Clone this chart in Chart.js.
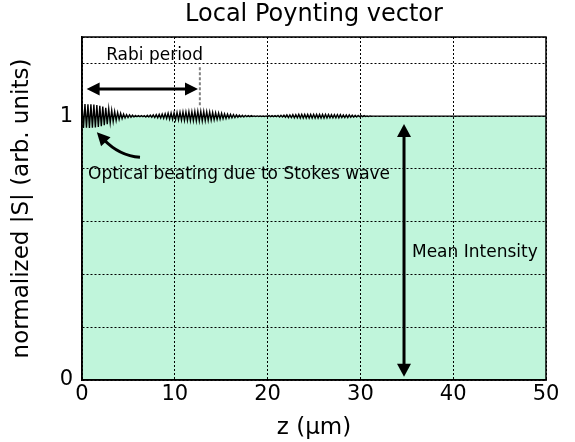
<!DOCTYPE html>
<html>
<head>
<meta charset="utf-8">
<script src="https://cdn.jsdelivr.net/npm/chart.js@4.4.0/dist/chart.umd.min.js"></script>
<style>
  html, body { margin: 0; padding: 0; background: #fff; }
  canvas { display: block; }
</style>
</head>
<body>
<canvas id="poyntingChart" width="575" height="442"></canvas>
<script>
// extrema of |S|, one value every half period (0.16 µm)
const zStep = 0.16;
const rippleS = [
  1.047, 0.955, 1.046, 0.956, 1.045, 0.955, 1.045, 0.956, 1.044, 0.957,
  1.042, 0.959, 1.039, 0.962, 1.036, 0.966, 1.032, 0.970, 1.028, 0.975,
  1.022, 0.980, 1.018, 0.984, 1.014, 0.988, 1.011, 0.991, 1.008, 0.993,
  1.006, 0.995, 1.005, 0.996, 1.004, 0.997, 1.003, 0.998, 1.002, 0.998,
  1.002, 0.998, 1.002, 0.997, 1.003, 0.997, 1.004, 0.996, 1.005, 0.995,
  1.006, 0.994, 1.007, 0.993, 1.008, 0.992, 1.009, 0.991, 1.011, 0.989,
  1.012, 0.988, 1.013, 0.987, 1.014, 0.986, 1.015, 0.985, 1.016, 0.984,
  1.016, 0.984, 1.017, 0.983, 1.017, 0.983, 1.018, 0.982, 1.018, 0.982,
  1.018, 0.982, 1.018, 0.983, 1.017, 0.984, 1.016, 0.985, 1.014, 0.986,
  1.013, 0.988, 1.012, 0.989, 1.011, 0.990, 1.009, 0.991, 1.008, 0.993,
  1.007, 0.994, 1.006, 0.995, 1.005, 0.996, 1.004, 0.997, 1.003, 0.997,
  1.003, 0.998, 1.002, 0.998, 1.002, 0.999, 1.001, 0.999, 1.001, 0.999,
  1.001, 0.999, 1.001, 0.999, 1.001, 0.999, 1.002, 0.998, 1.002, 0.998,
  1.002, 0.998, 1.003, 0.997, 1.003, 0.997, 1.004, 0.996, 1.005, 0.995,
  1.005, 0.995, 1.006, 0.994, 1.006, 0.994, 1.007, 0.993, 1.007, 0.993,
  1.007, 0.993, 1.007, 0.993, 1.007, 0.993, 1.007, 0.993, 1.007, 0.993,
  1.007, 0.993, 1.007, 0.993, 1.007, 0.993, 1.006, 0.994, 1.006, 0.994,
  1.006, 0.994, 1.006, 0.994, 1.006, 0.995, 1.005, 0.995, 1.005, 0.995,
  1.005, 0.996, 1.004, 0.996, 1.003, 0.997, 1.003, 0.998, 1.002, 0.998,
  1.002, 0.999, 1.001, 0.999, 1.001, 1.000, 1.000, 1.000, 1.000, 1.000
];
// flat part after the ripple dies out
const tailZ = [32, 50];
const tailS = [1.0, 1.0];

const xTicks = [0, 10, 20, 30, 40, 50];
const yLabelled = [0, 1];

const points = rippleS.map((s, i) => ({ x: i * zStep, y: s }))
  .concat(tailZ.map((z, i) => ({ x: z, y: tailS[i] })));

Chart.defaults.font.family = '"DejaVu Sans", sans-serif';
Chart.defaults.color = '#000';

function head(ctx, tx, ty, angle, len, half) {
  ctx.beginPath();
  ctx.moveTo(tx, ty);
  ctx.lineTo(tx - len * Math.cos(angle) + half * Math.sin(angle), ty - len * Math.sin(angle) - half * Math.cos(angle));
  ctx.lineTo(tx - len * Math.cos(angle) - half * Math.sin(angle), ty - len * Math.sin(angle) + half * Math.cos(angle));
  ctx.closePath();
  ctx.fill();
}

function doubleArrow(ctx, x1, y1, x2, y2, len, half) {
  const a = Math.atan2(y2 - y1, x2 - x1);
  const c = Math.cos(a), s = Math.sin(a);
  ctx.beginPath();
  ctx.moveTo(x1 + c * (len - 2), y1 + s * (len - 2));
  ctx.lineTo(x2 - c * (len - 2), y2 - s * (len - 2));
  ctx.stroke();
  head(ctx, x2, y2, a, len, half);
  head(ctx, x1, y1, a + Math.PI, len, half);
}

const frame = {
  id: 'frame',
  afterDraw(chart) {
    const { ctx, chartArea: a } = chart;
    ctx.save();
    ctx.strokeStyle = '#000';
    ctx.lineWidth = 1.5;
    ctx.strokeRect(a.left, a.top, a.right - a.left, a.bottom - a.top);
    // title centred over the plot box
    ctx.fillStyle = '#000';
    ctx.font = '24px "DejaVu Sans"';
    ctx.textAlign = 'center';
    ctx.textBaseline = 'middle';
    ctx.fillText('Local Poynting vector', (a.left + a.right) / 2, 15);
    ctx.restore();
  }
};

const notes = {
  id: 'notes',
  afterDraw(chart) {
    const { ctx, scales: { x, y } } = chart;
    const px = v => x.getPixelForValue(v);
    const py = v => y.getPixelForValue(v);
    ctx.save();

    // dashed marker at end of the Rabi period
    ctx.strokeStyle = '#808080';
    ctx.lineWidth = 2;
    ctx.setLineDash([3, 2]);
    ctx.beginPath();
    ctx.moveTo(px(12.7), py(1.185));
    ctx.lineTo(px(12.7), py(1.04));
    ctx.stroke();
    ctx.setLineDash([]);

    ctx.strokeStyle = '#000';
    ctx.fillStyle = '#000';
    ctx.lineWidth = 3;
    doubleArrow(ctx, px(0.5), py(1.103), px(12.5), py(1.103), 13, 6.5);
    doubleArrow(ctx, px(34.7), py(0.97), px(34.7), py(0.012), 13, 7);

    // curved arrow pointing at the beating
    const tail = [px(6.25), py(0.844)];
    const ctrl = [px(4.0), py(0.85)];
    const tip = [px(1.6), py(0.939)];
    const ang = Math.atan2(tip[1] - ctrl[1], tip[0] - ctrl[0]);
    ctx.beginPath();
    ctx.moveTo(tail[0], tail[1]);
    ctx.quadraticCurveTo(ctrl[0], ctrl[1], tip[0] - 10 * Math.cos(ang), tip[1] - 10 * Math.sin(ang));
    ctx.stroke();
    head(ctx, tip[0], tip[1], ang, 13, 6.5);

    ctx.textAlign = 'left';
    ctx.textBaseline = 'middle';
    ctx.font = '17px "DejaVu Sans"';
    ctx.fillText('Rabi period', px(2.6), py(1.228));
    ctx.fillText('Optical beating due to Stokes wave', px(0.65), py(0.779));
    ctx.fillText('Mean Intensity', px(35.56), py(0.483));
    ctx.restore();
  }
};

new Chart(document.getElementById('poyntingChart'), {
  type: 'line',
  data: {
    datasets: [{
      data: points,
      borderColor: '#000',
      borderWidth: 1.4,
      backgroundColor: '#c0f5db',
      fill: 'origin',
      pointRadius: 0,
      tension: 0
    }]
  },
  options: {
    responsive: false,
    animation: false,
    layout: { padding: { left: 0, right: 29, top: 37, bottom: 0 } },
    plugins: {
      legend: { display: false },
      tooltip: { enabled: false },
      title: { display: false }
    },
    scales: {
      x: {
        type: 'linear',
        min: 0,
        max: 50,
        afterFit: s => { s.height = 62; },
        afterBuildTicks: s => { s.ticks = xTicks.map(v => ({ value: v })); },
        ticks: { font: { size: 21 }, padding: 2, maxRotation: 0 },
        grid: { color: '#000', lineWidth: 1, drawTicks: false, z: 1 },
        border: { display: true, color: '#000', width: 1.5, dash: [2, 2], z: 2 },
        title: { display: true, text: 'z (µm)', font: { size: 23 }, padding: { top: 0, bottom: 0 } }
      },
      y: {
        min: 0,
        max: 1.3,
        afterFit: s => { s.width = 82; },
        ticks: {
          stepSize: 0.2,
          autoSkip: false,
          font: { size: 21 },
          padding: 9,
          callback: v => (yLabelled.some(t => Math.abs(t - v) < 1e-6) ? String(Math.round(v)) : '')
        },
        grid: { color: '#000', lineWidth: 1, drawTicks: false, z: 1 },
        border: { display: true, color: '#000', width: 1.5, dash: [2, 2], z: 2 },
        title: { display: true, text: 'normalized |S| (arb. units)', font: { size: 23 }, padding: { top: 8, bottom: 0 } }
      }
    }
  },
  plugins: [frame, notes]
});
</script>
</body>
</html>
